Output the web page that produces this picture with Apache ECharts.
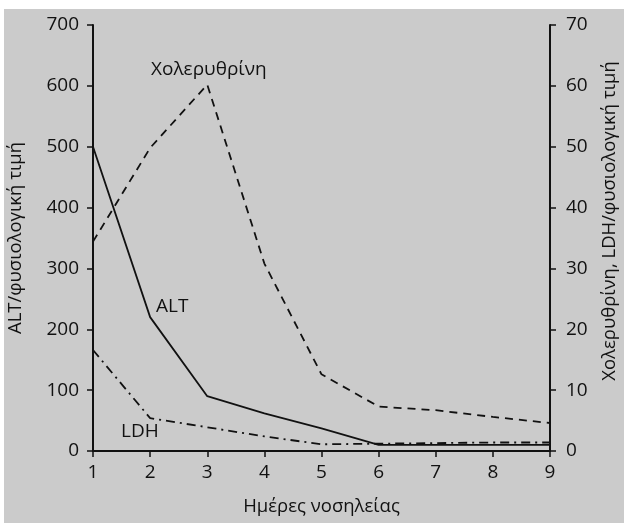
<!DOCTYPE html>
<html>
<head>
<meta charset="utf-8">
<script src="https://cdn.jsdelivr.net/npm/echarts@6/dist/echarts.min.js"></script>
<style>
  html, body { margin: 0; padding: 0; background: #ffffff; }
  #chart { position: absolute; left: 4px; top: 9px; width: 620px; height: 514px; }
</style>
</head>
<body>
<div id="chart"></div>
<script>
// ημέρες νοσηλείας
const days = ['1', '2', '3', '4', '5', '6', '7', '8', '9']
// ALT / φυσιολογική τιμή (αριστερός άξονας)
const alt = [500, 220, 90, 62, 37, 10, 10, 10, 10]
// Χολερυθρίνη (δεξιός άξονας)
const bilirubin = [34.4, 49.8, 60.2, 30.8, 12.6, 7.3, 6.7, 5.6, 4.6]
// LDH / φυσιολογική τιμή (δεξιός άξονας)
const ldh = [16.6, 5.4, 3.9, 2.4, 1.1, 1.2, 1.3, 1.4, 1.4]

const font = '"Open Sans", "Noto Sans", sans-serif'
const ink = '#111111'

const chart = echarts.init(document.getElementById('chart'))

const axisCommon = {
  axisLine: { show: true, lineStyle: { color: ink, width: 2 } },
  axisTick: { show: true, length: 6, lineStyle: { color: ink, width: 1.5 } },
  axisLabel: { color: ink, fontSize: 19, fontFamily: font },
  splitLine: { show: false },
  nameTextStyle: { color: ink, fontSize: 18.5, fontFamily: font },
}

const option = {
  backgroundColor: '#cbcbcb',
  animation: false,
  grid: { left: 89, right: 74, top: 16, bottom: 72, outerBoundsMode: 'none' },
  xAxis: {
    type: 'category',
    data: days,
    boundaryGap: false,
    ...axisCommon,
    axisLabel: { ...axisCommon.axisLabel, margin: 12 },
    name: 'Ημέρες νοσηλείας',
    nameLocation: 'middle',
    nameGap: 46,
  },
  yAxis: [
    {
      type: 'value',
      min: 0,
      max: 700,
      interval: 100,
      position: 'left',
      ...axisCommon,
      axisLabel: { ...axisCommon.axisLabel, margin: 14 },
      name: 'ALT/φυσιολογική τιμή',
      nameLocation: 'middle',
      nameRotate: 90,
      nameGap: 68,
    },
    {
      type: 'value',
      min: 0,
      max: 70,
      interval: 10,
      position: 'right',
      ...axisCommon,
      axisLabel: { ...axisCommon.axisLabel, margin: 16 },
      name: 'Χολερυθρίνη, LDH/φυσιολογική τιμή',
      nameLocation: 'middle',
      nameRotate: 90,
      nameGap: 50,
      nameTextStyle: { ...axisCommon.nameTextStyle, padding: [0, 0, 0, 34] },
    },
  ],
  series: [
    {
      name: 'ALT',
      type: 'line',
      yAxisIndex: 0,
      data: alt,
      symbol: 'none',
      lineStyle: { color: ink, width: 1.8, type: 'solid' },
    },
    {
      name: 'Χολερυθρίνη',
      type: 'line',
      yAxisIndex: 1,
      data: bilirubin,
      symbol: 'none',
      lineStyle: { color: ink, width: 1.8, type: [8, 6] },
    },
    {
      name: 'LDH',
      type: 'line',
      yAxisIndex: 1,
      data: ldh,
      symbol: 'none',
      lineStyle: { color: ink, width: 1.8, type: [9, 5, 2, 5] },
    },
  ],
  graphic: [
    {
      type: 'text',
      left: 147,
      top: 51,
      style: { text: 'Χολερυθρίνη', fill: ink, font: '19px ' + font },
    },
    {
      type: 'text',
      left: 152,
      top: 288,
      style: { text: 'ALT', fill: ink, font: '19px ' + font },
    },
    {
      type: 'text',
      left: 117,
      top: 413,
      style: { text: 'LDH', fill: ink, font: '19px ' + font },
    },
  ],
}

chart.setOption(option)
</script>
</body>
</html>
